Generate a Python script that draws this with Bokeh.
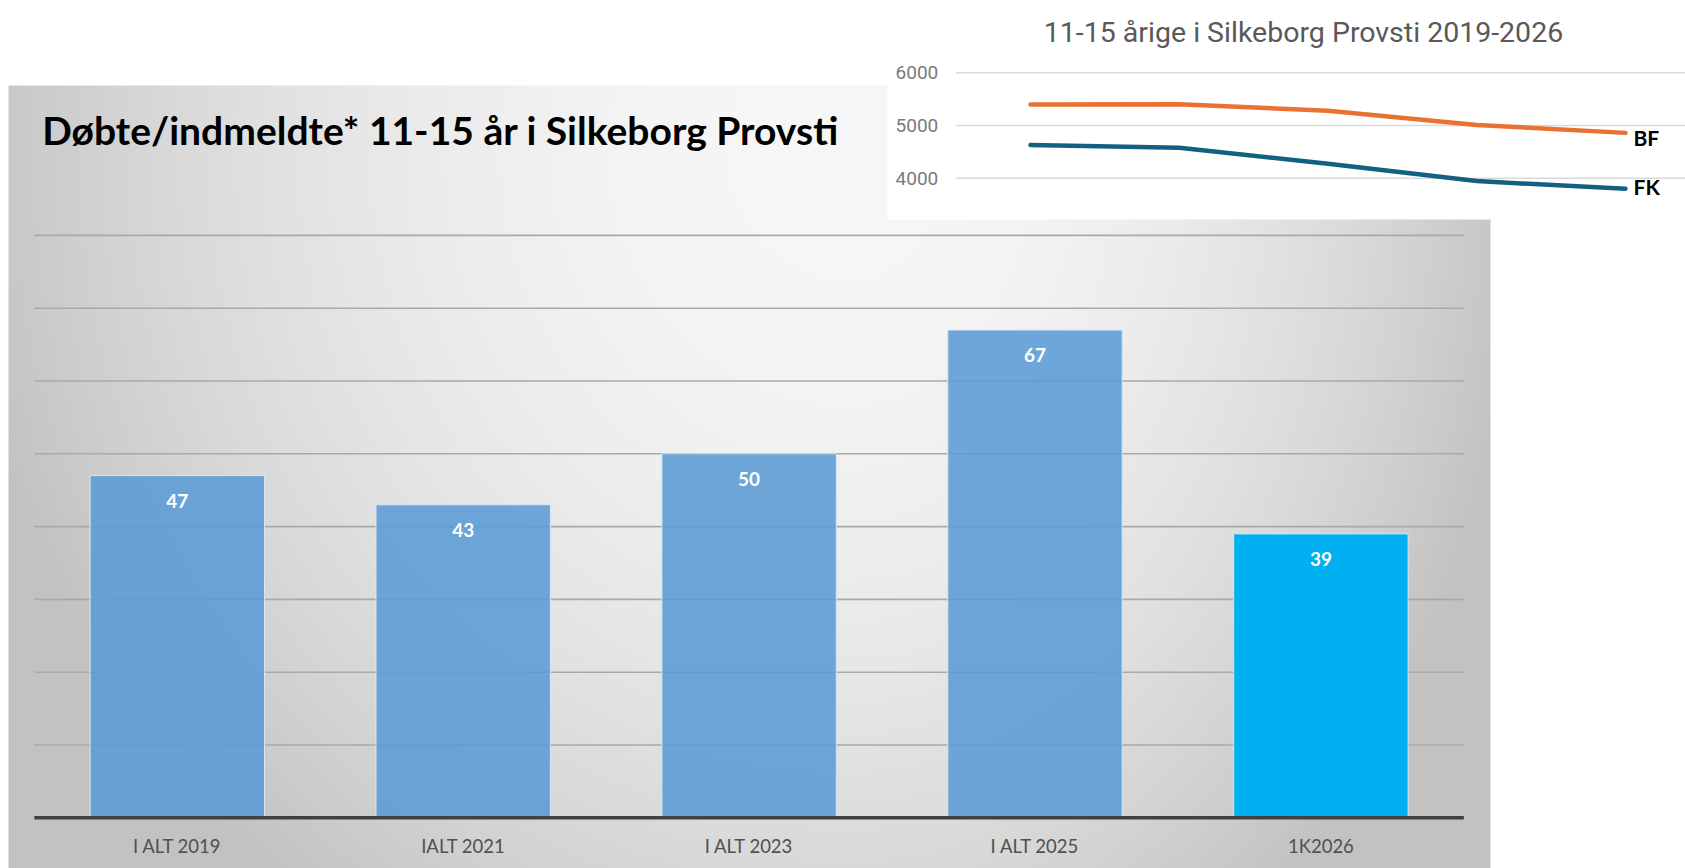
import numpy as np
from bokeh.plotting import figure
from bokeh.models import Range1d
from bokeh.core.properties import value
from bokeh.embed import file_html
from bokeh.resources import INLINE

# ---------------- data ----------------
categories = ["I ALT 2019", "IALT 2021", "I ALT 2023", "I ALT 2025", "1K2026"]
counts = [47, 43, 50, 67, 39]
grid_ticks = [10, 20, 30, 40, 50, 60, 70, 80]

main_title = "Døbte/indmeldte* 11-15 år i Silkeborg Provsti"

inset_title = "11-15 årige i Silkeborg Provsti 2019-2026"
inset_steps = [0, 1, 2, 3, 4]
bf_values = [5400, 5405, 5280, 5010, 4860]
fk_values = [4630, 4578, 4275, 3945, 3800]
inset_ticks = [4000, 5000, 6000]
series_names = ["BF", "FK"]

# ---------------- layout constants (canvas pixels) ----------------
W, H = 1685, 868
PX_PER_UNIT = 7.28          # main chart: pixels per count
ZERO_Y = 817.3              # canvas y of the main baseline
BAR_STEP = 285.9            # pixels per category
FIRST_CENTER = 176.8        # canvas x of first bar center
IN_STEP = 148.75            # inset pixels per step
IN_FIRST = 1030.0           # inset first point canvas x
IN_PX_PER_K = 52.7          # inset pixels per 1000
IN_6000_Y = 72.3            # canvas y of 6000 line

x0 = 0.5 - FIRST_CENTER / BAR_STEP
main_x = Range1d(x0, x0 + W / BAR_STEP)
main_y = Range1d(-(H - ZERO_Y) / PX_PER_UNIT, ZERO_Y / PX_PER_UNIT)

ix0 = -IN_FIRST / IN_STEP
in_x = Range1d(ix0, ix0 + W / IN_STEP)
iy_top = 6000 + IN_6000_Y / IN_PX_PER_K * 1000
in_y = Range1d(iy_top - H / IN_PX_PER_K * 1000, iy_top)

p = figure(width=W, height=H, output_backend="svg", toolbar_location=None,
           x_range=main_x, y_range=main_y, title=None,
           x_axis_type=None, y_axis_type=None,
           min_border=0, min_border_left=0, min_border_right=0,
           min_border_top=0, min_border_bottom=0)
p.outline_line_color = None
p.background_fill_color = "white"
p.border_fill_color = "white"
p.extra_x_ranges = {"px": Range1d(0, W), "ix": in_x}
p.extra_y_ranges = {"py": Range1d(0, H), "iy": in_y}

# ---------------- gray gradient panel ----------------
PANEL_L, PANEL_R = 8, 1490
PANEL_TOP = 85
PANEL_W = PANEL_R - PANEL_L
ph = H - PANEL_TOP
S = 2
nx, ny = PANEL_W // S, ph // S
cx = PANEL_L + (np.arange(nx) + 0.5) * PANEL_W / nx
cy = H - (np.arange(ny) + 0.5) * ph / ny            # row 0 = bottom
XX, YY = np.meshgrid(cx, cy)
gx0, gy0 = 850.0, 150.0
rx = np.where(XX < gx0, 900.0, 680.0)
d = np.sqrt(((XX - gx0) / rx) ** 2 + ((YY - gy0) / 950.0) ** 2)
g = 247 - 53 * np.clip(d, 0, 1) ** 2
img = np.empty((ny, nx), dtype=np.uint32)
view = img.view(dtype=np.uint8).reshape((ny, nx, 4))
view[..., 0] = g
view[..., 1] = g
view[..., 2] = g
view[..., 3] = 255
p.image_rgba(image=[img], x=PANEL_L, y=0, dw=PANEL_W, dh=ph,
             x_range_name="px", y_range_name="py")

# white box of the inset chart
p.quad(left=887, right=W, top=H, bottom=H - 219, fill_color="white",
       line_color=None, x_range_name="px", y_range_name="py")

# ---------------- main bar chart ----------------
n = len(categories)
xs = [i + 0.5 for i in range(n)]
p.segment(x0=0, x1=n, y0=grid_ticks, y1=grid_ticks,
          line_color="#a9a9a9", line_width=1.6)

bar_colors = ["#5B9BD5"] * (n - 1) + ["#00B0F0"]
bar_alpha = [0.88] * (n - 1) + [1.0]
p.vbar(x=xs, top=counts, bottom=0, width=0.61, fill_color=bar_colors,
       fill_alpha=bar_alpha, line_color="#d8e7f5", line_width=1)

p.segment(x0=0, x1=n, y0=0, y1=0, line_color="#404040", line_width=3.5)

p.text(x=xs, y=[-(845 - ZERO_Y) / PX_PER_UNIT] * n, text=categories,
       text_font=value("Lato"), text_font_size="18.5px", text_color="#505050",
       text_align="center", text_baseline="middle")

LABEL_DROP = 25 / PX_PER_UNIT
p.text(x=xs, y=[v - LABEL_DROP for v in counts], text=[str(v) for v in counts],
       text_font=value("Lato"), text_font_style="bold", text_font_size="19px",
       text_color="white", text_align="center", text_baseline="middle")

p.text(x=[41.7], y=[H - 129], text=[main_title],
       text_font=value("Lato"), text_font_style="bold", text_font_size="39px",
       text_color="black", text_align="left", text_baseline="middle",
       x_range_name="px", y_range_name="py")

# ---------------- inset line chart ----------------
p.segment(x0=-0.5, x1=4.6, y0=inset_ticks, y1=inset_ticks,
          line_color="#d9d9d9", line_width=1.5,
          x_range_name="ix", y_range_name="iy")
p.text(x=[-0.62] * len(inset_ticks), y=inset_ticks,
       text=[str(t) for t in inset_ticks],
       text_font=value("Roboto"), text_font_size="19px", text_color="#7a7a7a",
       text_align="right", text_baseline="middle",
       x_range_name="ix", y_range_name="iy")

p.line(x=inset_steps, y=bf_values, line_color="#E97132", line_width=4.5,
       line_cap="round", line_join="round", x_range_name="ix", y_range_name="iy")
p.line(x=inset_steps, y=fk_values, line_color="#156082", line_width=4.5,
       line_cap="round", line_join="round", x_range_name="ix", y_range_name="iy")

last = inset_steps[-1]
p.text(x=[last + 0.054] * 2, y=[4767, 3848], text=series_names,
       text_font=value("Lato"), text_font_style="bold", text_font_size="21px",
       text_color="black", text_align="left", text_baseline="middle",
       x_range_name="ix", y_range_name="iy")

p.text(x=[1303], y=[H - 32], text=[inset_title],
       text_font=value("Roboto"), text_font_size="28.5px", text_color="#595959",
       text_align="center", text_baseline="middle",
       x_range_name="px", y_range_name="py")

open("out.html", "w").write(file_html(p, INLINE))
